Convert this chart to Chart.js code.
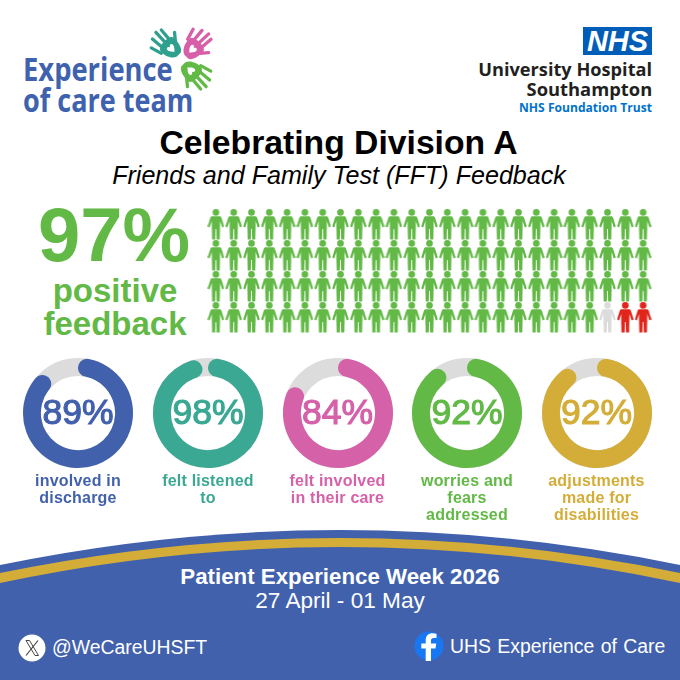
<!DOCTYPE html>
<html>
<head>
<meta charset="utf-8">
<title>Celebrating Division A</title>
<script src="https://cdn.jsdelivr.net/npm/chart.js@4"></script>
<style>
html, body { margin: 0; padding: 0; background: #fff; }
#page { position: relative; width: 680px; height: 680px; overflow: hidden; font-family: "Liberation Sans", Arial, sans-serif; background: #fff; }
#page > * { position: absolute; }
.t { white-space: nowrap; line-height: 1; }
.c { transform: translateX(-50%); text-align: center; }
.logo { font-family: "Open Sans", sans-serif; font-weight: 700; transform-origin: left center; }
.ring { width: 120px; height: 120px; }
.ring canvas { display: block; }
.pct { font-size: 35.5px; transform: translate(-50%, -50%); -webkit-text-stroke: 1.1px currentColor; }
.lab { font-weight: bold; font-size: 16px; line-height: 17px; letter-spacing: 0.2px; transform: translateX(-50%); text-align: center; white-space: nowrap; }
</style>
</head>
<body>
<div id="page">
  <!-- footer band -->
  <svg style="left:0;top:0" width="680" height="680">
    <path d="M0,565 Q340,495 680,565 L680,680 L0,680 Z" fill="#4261AC"/>
    <path d="M0,573 Q340,503 680,573 L680,583 Q340,511 0,583 Z" fill="#D4AD38"/>
    <circle cx="32" cy="648" r="13.5" fill="#fff"/>
    <path d="M26,640.5 L35,655.5 L38.5,655.5 L29.5,640.5 Z" fill="none" stroke="#444" stroke-width="1"/>
    <path d="M38,640.5 L26,655.5" stroke="#444" stroke-width="1.2"/>
    <circle cx="429" cy="646" r="14.5" fill="#1877F2"/>
    <path d="M431,661 V648.5 H435.5 L436.3,643.5 H431 V640.5 C431,638.9 431.8,638 433.6,638 H436.5 V633.7 C435.5,633.5 434,633.3 432.6,633.3 C428.4,633.3 425.7,635.8 425.7,640 V643.5 H421.3 V648.5 H425.7 V661 Z" fill="#fff"/>
  </svg>

  <!-- hands -->
  <svg style="left:145px;top:24px" width="75" height="70" viewBox="0 0 75 70">
    <defs>
      <g id="hand">
        <path d="M-8,1 C-9,8 -5,14 -1,15 L4,15 C8,13 9,7 9,1 C9,-4 -7,-4 -8,1 Z"/>
        <path d="M-9,3 L-12,-7 M-4.5,0 L-5.5,-12 M0.5,0 L1,-14 M5,0 L6,-12 M8,4 L13,-2" fill="none" stroke-width="3" stroke-linecap="round" stroke="currentColor"/>
        <path d="M-3,5 C-3,2.5 0,2.5 0.5,5 C1,2.5 4,2.5 4,5 C4,7.5 1.5,9 0.5,10.5 C-0.5,9 -3,7.5 -3,5 Z" fill="#fff"/>
      </g>
    </defs>
    <use href="#hand" transform="translate(21,20) rotate(-45) scale(1.1)" fill="#2FA08E" color="#2FA08E"/>
    <use href="#hand" transform="translate(52,20) rotate(45) scale(1.1)" fill="#D75FA8" color="#D75FA8"/>
    <use href="#hand" transform="translate(51,51) rotate(135) scale(1.1)" fill="#62B946" color="#62B946"/>
  </svg>

  <div class="t logo" style="left:23px;top:53px;font-size:32px;color:#3E62AE;transform:scaleX(.855)">Experience</div>
  <div class="t logo" style="left:23px;top:84px;font-size:32px;color:#3E62AE;transform:scaleX(.845)">of care team</div>

  <!-- trust logo -->
  <div style="left:583px;top:27px;width:69px;height:28px;background:#005EB8"></div>
  <div class="t" style="left:617.5px;top:27px;width:69px;margin-left:-34.5px;text-align:center;font-size:29px;font-weight:bold;font-style:italic;color:#fff">NHS</div>
  <div class="t logo" style="right:28px;top:60px;font-size:18px;color:#231F20;transform:scaleX(1.01);transform-origin:right center">University Hospital</div>
  <div class="t logo" style="right:28px;top:80px;font-size:18px;color:#231F20;transform:scaleX(1.02);transform-origin:right center">Southampton</div>
  <div class="t logo" style="right:28px;top:101px;font-size:13px;color:#0072CE;transform:scaleX(.93);transform-origin:right center">NHS Foundation Trust</div>

  <!-- titles -->
  <div class="t c" style="left:338.5px;top:126px;font-size:33.7px;font-weight:bold;color:#000">Celebrating Division A</div>
  <div class="t c" style="left:339px;top:163px;font-size:25.1px;font-style:italic;color:#000">Friends and Family Test (FFT) Feedback</div>

  <!-- headline figure -->
  <div class="t c" style="left:114px;top:197px;font-size:76px;font-weight:bold;color:#62B946" id="headline"></div>
  <div class="t c" style="left:115px;top:274px;font-size:33px;font-weight:bold;color:#62B946">positive</div>
  <div class="t c" style="left:115px;top:307px;font-size:33px;font-weight:bold;color:#62B946">feedback</div>

  <!-- people -->
  <div style="left:207px;top:209px;width:445px;height:124px"><canvas id="people"></canvas></div>

  <div id="rings"></div>

  <!-- footer text -->
  <div class="t c" style="left:340px;top:566px;font-size:22.3px;font-weight:bold;color:#fff">Patient Experience Week 2026</div>
  <div class="t c" style="left:340px;top:590px;font-size:22.6px;color:#fff">27 April - 01 May</div>
  <div class="t" style="left:52px;top:638px;font-size:19.4px;color:#fff">@WeCareUHSFT</div>
  <div class="t" style="left:450px;top:637px;font-size:19.4px;color:#fff;word-spacing:1px">UHS Experience of Care</div>
</div>

<script>
// headline
const positiveShare = 97;

// people grid, one figure per 1%
const peopleCounts = [97, 1, 2];
const peopleColours = ['#62B946', '#DCDCDC', '#E1251B'];
const peoplePerRow = 25;

// rings
const ringLabels = [['involved in', 'discharge'], ['felt listened', 'to'], ['felt involved', 'in their care'], ['worries and', 'fears', 'addressed'], ['adjustments', 'made for', 'disabilities']];
const ringValues = [89, 98, 84, 92, 92];
const ringColours = ['#4261AC', '#3AA893', '#D561A9', '#62B946', '#D4AD38'];
const ringCentres = [78, 208, 337.5, 467, 596.5];
const ringTrack = '#DCDCDC';

const page = document.getElementById('page');
document.getElementById('headline').textContent = positiveShare + '%';

function personIcon(colour) {
    const c = document.createElement('canvas');
    c.width = 17;
    c.height = 31;
    const g = c.getContext('2d');
    g.fillStyle = colour;
    g.beginPath();
    g.arc(8.5, 3.4, 3.3, 0, Math.PI * 2);
    g.fill();
    // body, arms and legs
    const body = new Path2D('M5,7.2 L12,7.2 C13,7.2 13.6,7.7 14,8.5 L16.8,17.5 L14.8,18.5 L12.6,12 L12.6,19 L12.3,30.5 L9.2,30.5 L8.9,20 L8.1,20 L7.8,30.5 L4.7,30.5 L4.4,19 L4.4,12 L2.2,18.5 L0.2,17.5 L3,8.5 C3.4,7.7 4,7.2 5,7.2 Z');
    g.fill(body);
    return c;
}

// one point per person, walking the grid left to right, top to bottom
const peopleSets = [];
let seen = 0;
peopleCounts.forEach((count, k) => {
    const pts = [];
    for (let i = 0; i < count; i++) {
        pts.push({ x: seen % peoplePerRow + 1, y: Math.floor(seen / peoplePerRow) + 1 });
        seen++;
    }
    peopleSets.push({ data: pts, pointStyle: personIcon(peopleColours[k]), pointRadius: 8, pointHoverRadius: 8 });
});

new Chart(document.getElementById('people'), {
    type: 'scatter',
    data: { datasets: peopleSets },
    options: {
        responsive: true,
        maintainAspectRatio: false,
        animation: false,
        layout: { padding: 0, autoPadding: false },
        plugins: { legend: { display: false }, tooltip: { enabled: false } },
        scales: {
            x: { display: false, min: 0.5, max: peoplePerRow + 0.5 },
            y: { display: false, reverse: true, min: 0.5, max: 4.5 }
        }
    }
});

// grey track under each ring so the rounded ends sit on it
const trackPlugin = {
    id: 'track',
    beforeDatasetsDraw(chart) {
        const arc = chart.getDatasetMeta(0).data[0];
        const g = chart.ctx;
        g.save();
        g.beginPath();
        g.arc(arc.x, arc.y, (arc.outerRadius + arc.innerRadius) / 2, 0, Math.PI * 2);
        g.lineWidth = arc.outerRadius - arc.innerRadius;
        g.strokeStyle = ringTrack;
        g.stroke();
        g.restore();
    }
};

ringValues.forEach((value, i) => {
    const box = document.createElement('div');
    box.className = 'ring';
    box.style.left = (ringCentres[i] - 60) + 'px';
    box.style.top = '353px';
    const cv = document.createElement('canvas');
    box.appendChild(cv);
    page.appendChild(box);

    new Chart(cv, {
        type: 'doughnut',
        data: {
            labels: ['yes', 'rest'],
            datasets: [{
                data: [value, 100 - value],
                backgroundColor: [ringColours[i], 'rgba(0,0,0,0)'],
                borderWidth: 0,
                borderRadius: 9
            }]
        },
        options: {
            responsive: true,
            maintainAspectRatio: true,
            animation: false,
            cutout: '67.5%',
            radius: 55,
            plugins: { legend: { display: false }, tooltip: { enabled: false } }
        },
        plugins: [trackPlugin]
    });

    const pct = document.createElement('div');
    pct.className = 't pct';
    pct.style.left = ringCentres[i] + 'px';
    pct.style.top = '413px';
    pct.style.color = ringColours[i];
    pct.textContent = value + '%';
    page.appendChild(pct);

    const lab = document.createElement('div');
    lab.className = 'lab';
    lab.style.left = ringCentres[i] + 'px';
    lab.style.top = '472px';
    lab.style.color = ringColours[i];
    lab.innerHTML = ringLabels[i].join('<br>');
    page.appendChild(lab);
});
</script>
</body>
</html>
